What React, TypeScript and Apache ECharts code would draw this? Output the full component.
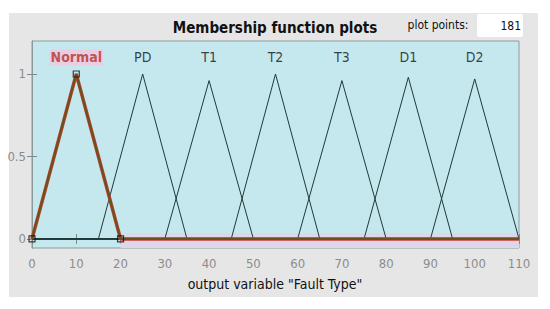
import React, { useEffect, useRef } from "react";
import * as echarts from "echarts";

const mfNames = ["Normal", "PD", "T1", "T2", "T3", "D1", "D2"];
const mfStart = [0, 15, 30, 45, 60, 75, 90];
const mfPeakX = [10, 25, 40, 55, 70, 85, 100];
const mfEnd = [20, 35, 50, 65, 80, 95, 110];
const mfPeakY = [1, 1, 0.96, 1, 0.96, 0.98, 0.97];
const xTicks = [0, 10, 20, 30, 40, 50, 60, 70, 80, 90, 100, 110];
const yTicks = [0, 0.5, 1];
const rangeMin = 0;
const rangeMax = 110;
const plotPoints = "181";

const FONT = "'DejaVu Sans Condensed', 'DejaVu Sans', sans-serif";

export default function App() {
  const ref = useRef<HTMLDivElement>(null);
  useEffect(() => {
    if (!ref.current) return;
    const chart = echarts.init(ref.current, null, { renderer: "svg" });
    const series: any[] = [];
    series.push({
      type: "line",
      data: [],
      markArea: {
        silent: true,
        itemStyle: { color: "#ded6ea" },
        data: [[{ coord: [mfEnd[0], -0.06] }, { coord: [rangeMax, 0.035] }]],
      },
    });
    for (let i = 1; i < mfNames.length; i++) {
      const pts: number[][] = [];
      if (mfStart[i] > rangeMin) pts.push([rangeMin, 0]);
      pts.push([mfStart[i], 0], [mfPeakX[i], mfPeakY[i]], [mfEnd[i], 0]);
      if (mfEnd[i] < rangeMax) pts.push([rangeMax, 0]);
      series.push({
        type: "line",
        data: pts,
        symbol: "none",
        lineStyle: { color: "#1f3a3a", width: 1 },
        z: 3,
      });
    }
    const normalPts = [
      [mfStart[0], 0],
      [mfPeakX[0], mfPeakY[0]],
      [mfEnd[0], 0],
      [rangeMax, 0],
    ];
    series.push({
      type: "line",
      data: normalPts,
      symbol: "none",
      lineStyle: { color: "#c8402e", width: 3.5 },
      z: 4,
    });
    series.push({
      type: "line",
      data: normalPts,
      symbol: "none",
      lineStyle: { color: "#6a5220", width: 2.2 },
      z: 5,
    });
    series.push({
      type: "scatter",
      data: normalPts.slice(0, 3),
      symbol: "rect",
      symbolSize: 6,
      itemStyle: { color: "rgba(0,0,0,0)", borderColor: "#111", borderWidth: 1.2 },
      z: 6,
    });
    const labelData: any[] = mfNames.map((n, i) => ({ value: [mfPeakX[i], 1.1], name: n }));
    labelData[0].label = {
      color: "#b3322a",
      fontWeight: "bold",
      backgroundColor: "#f2c6dc",
      padding: [1, 1],
    };
    series.push({
      type: "scatter",
      data: labelData,
      symbolSize: 0,
      z: 7,
      label: {
        show: true,
        position: "inside",
        formatter: (p: any) => p.name,
        fontFamily: FONT,
        fontSize: 14,
        color: "#111",
      },
    });

    chart.setOption({
      animation: false,
      backgroundColor: "#ffffff",
      graphic: [
        {
          type: "rect",
          shape: { x: 9, y: 13, width: 529, height: 284 },
          style: { fill: "#e6e6e6" },
          z: -10,
          silent: true,
        },
        {
          type: "text",
          x: 275,
          y: 28,
          style: {
            text: "Membership function plots",
            fontFamily: FONT,
            fontSize: 15,
            fontWeight: "bold",
            fill: "#111",
            align: "center",
            verticalAlign: "middle",
          },
        },
        {
          type: "text",
          x: 438,
          y: 25,
          style: {
            text: "plot points:",
            fontFamily: FONT,
            fontSize: 12,
            fill: "#111",
            align: "center",
            verticalAlign: "middle",
          },
        },
        {
          type: "rect",
          shape: { x: 477, y: 14, width: 46, height: 23, r: 2 },
          style: { fill: "#ffffff" },
        },
        {
          type: "text",
          x: 521,
          y: 26,
          style: {
            text: plotPoints,
            fontFamily: FONT,
            fontSize: 12,
            fill: "#111",
            align: "right",
            verticalAlign: "middle",
          },
        },
        {
          type: "text",
          x: 275,
          y: 284,
          style: {
            text: 'output variable "Fault Type"',
            fontFamily: FONT,
            fontSize: 14,
            fill: "#111",
            align: "center",
            verticalAlign: "middle",
          },
        },
      ],
      grid: {
        left: 32,
        right: 31,
        top: 41,
        bottom: 61,
        show: true,
        backgroundColor: "#c5e8ee",
        borderColor: "#8a9a9a",
        borderWidth: 1,
      },
      xAxis: [
        {
          type: "value",
          min: rangeMin,
          max: rangeMax,
          interval: 10,
          axisLine: { show: true, lineStyle: { color: "#8a9a9a" } },
          axisTick: { show: true, inside: true, length: 5, lineStyle: { color: "#7a8a8a" } },
          axisLabel: {
            color: "#8c8c8c",
            fontFamily: FONT,
            fontSize: 13,
            margin: 9,
            customValues: xTicks,
          },
          splitLine: { show: false },
        },
        {
          type: "value",
          position: "top",
          min: rangeMin,
          max: rangeMax,
          interval: 10,
          axisLine: { show: true, lineStyle: { color: "#8a9a9a" } },
          axisTick: { show: true, inside: true, length: 5, lineStyle: { color: "#7a8a8a" } },
          axisLabel: { show: false },
          splitLine: { show: false },
        },
      ],
      yAxis: [
        {
          type: "value",
          min: -0.055,
          max: 1.2,
          axisLine: { show: true, lineStyle: { color: "#8a9a9a" } },
          axisTick: { show: true, inside: true, length: 5, customValues: yTicks, lineStyle: { color: "#7a8a8a" } },
          axisLabel: {
            color: "#8c8c8c",
            fontFamily: FONT,
            fontSize: 13,
            margin: 6,
            customValues: yTicks,
            formatter: (v: number) => String(v),
          },
          splitLine: { show: false },
        },
        {
          type: "value",
          position: "right",
          min: -0.055,
          max: 1.2,
          axisLine: { show: true, lineStyle: { color: "#8a9a9a" } },
          axisTick: { show: true, inside: true, length: 5, customValues: yTicks, lineStyle: { color: "#7a8a8a" } },
          axisLabel: { show: false },
          splitLine: { show: false },
        },
      ],
      series,
    });
    return () => chart.dispose();
  }, []);
  return (
    <div
      ref={ref}
      style={{ position: "absolute", left: 0, top: 0, width: 550, height: 309 }}
    />
  );
}
